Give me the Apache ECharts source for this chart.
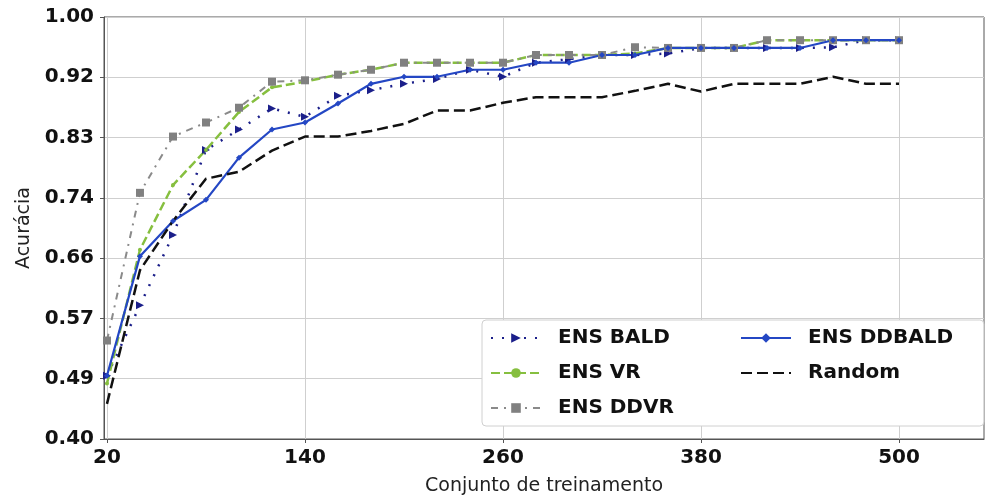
<!DOCTYPE html>
<html>
<head>
<meta charset="utf-8">
<script src="https://cdn.jsdelivr.net/npm/echarts@6/dist/echarts.min.js"></script>
<style>
  html, body { margin: 0; padding: 0; background: #fff; }
  #chart { width: 985px; height: 501px; }
</style>
</head>
<body>
<div id="chart"></div>
<script>
// tamanho do conjunto de treinamento
const trainSizes = [20, 40, 60, 80, 100, 120, 140, 160, 180, 200, 220, 240, 260,
  280, 300, 320, 340, 360, 380, 400, 420, 440, 460, 480, 500]

const ensBald = [0.49, 0.59, 0.69, 0.811, 0.84, 0.87, 0.858, 0.888, 0.896, 0.905, 0.912, 0.925, 0.915,
  0.935, 0.94, 0.946, 0.946, 0.948, 0.956, 0.956, 0.956, 0.956, 0.957, 0.967, 0.967]
const ensVr = [0.479, 0.669, 0.761, 0.811, 0.865, 0.9, 0.908, 0.918, 0.925, 0.935, 0.935, 0.935, 0.935,
  0.946, 0.946, 0.946, 0.948, 0.956, 0.956, 0.956, 0.967, 0.967, 0.967, 0.967, 0.967]
const ensDdvr = [0.54, 0.75, 0.83, 0.85, 0.871, 0.908, 0.91, 0.918, 0.925, 0.935, 0.935, 0.935, 0.935,
  0.946, 0.946, 0.946, 0.957, 0.956, 0.956, 0.956, 0.967, 0.967, 0.967, 0.967, 0.967]
const ensDdbald = [0.49, 0.66, 0.71, 0.74, 0.8, 0.84, 0.85, 0.877, 0.905, 0.915, 0.915, 0.925, 0.925,
  0.935, 0.935, 0.946, 0.946, 0.956, 0.956, 0.956, 0.956, 0.956, 0.967, 0.967, 0.967]
const randomAcc = [0.45, 0.64, 0.71, 0.77, 0.78, 0.81, 0.83, 0.83, 0.838, 0.848, 0.867, 0.867, 0.878,
  0.886, 0.886, 0.886, 0.895, 0.905, 0.894, 0.905, 0.905, 0.905, 0.915, 0.905, 0.905]

const xTicks = [20, 140, 260, 380, 500]
const yTicks = [0.4, 0.4857, 0.5714, 0.6571, 0.7429, 0.8286, 0.9143, 1.0]
const yTickLabels = ['0.40', '0.49', '0.57', '0.66', '0.74', '0.83', '0.92', '1.00']

const pairs = (ys) => trainSizes.map((x, i) => [x, ys[i]])

const chart = echarts.init(document.getElementById('chart'))

const tickFont = { color: '#111', fontSize: 20, fontWeight: 'bold', fontFamily: 'DejaVu Sans' }

const legendBase = {
  orient: 'vertical',
  top: 320,
  itemGap: 15,
  itemWidth: 50, itemHeight: 12,
  formatter: '{t|{name}}',
  textStyle: {
    rich: {
      t: { fontSize: 20, fontWeight: 'bold', color: '#111', fontFamily: 'DejaVu Sans', padding: [0, 0, 0, 12] },
    },
  },
}

chart.setOption({
  animation: false,
  backgroundColor: '#fff',
  grid: {
    left: 104, right: 1, top: 17, bottom: 60,
    show: true, borderColor: '#555', borderWidth: 1,
  },
  // duas colunas de legenda; a primeira carrega a caixa que envolve as duas
  legend: [
    {
      ...legendBase,
      left: 482,
      padding: [8, 310, 8, 8],
      backgroundColor: '#fff',
      borderColor: '#d0d0d0', borderWidth: 1, borderRadius: 4,
      data: ['ENS BALD', 'ENS VR', 'ENS DDVR'],
    },
    {
      ...legendBase,
      left: 732,
      padding: [8, 8, 8, 8],
      data: ['ENS DDBALD', { name: 'Random', itemStyle: { opacity: 0 } }],
    },
  ],
  xAxis: {
    type: 'value',
    min: 18.2, max: 551.5,
    name: 'Conjunto de treinamento',
    nameLocation: 'middle', nameGap: 38,
    nameTextStyle: { fontSize: 19, color: '#222', fontFamily: 'DejaVu Sans' },
    axisLine: { lineStyle: { color: '#555' } },
    axisTick: { show: true, inside: false, length: 4, customValues: xTicks, lineStyle: { color: '#555' } },
    axisLabel: { ...tickFont, margin: 9, customValues: xTicks, formatter: v => String(v) },
    splitLine: { show: true, lineStyle: { color: '#cfcfcf' } },
  },
  yAxis: {
    type: 'value',
    min: 0.4, max: 1.0,
    name: 'Acurácia',
    nameLocation: 'middle', nameGap: 70,
    nameTextStyle: { fontSize: 19, color: '#222', fontFamily: 'DejaVu Sans' },
    axisLine: { show: true, lineStyle: { color: '#555' } },
    axisTick: { show: true, inside: false, length: 4, customValues: yTicks, lineStyle: { color: '#555' } },
    axisLabel: {
      ...tickFont, margin: 10, customValues: yTicks,
      formatter: v => {
        const i = yTicks.findIndex(t => Math.abs(t - v) < 1e-3)
        return i >= 0 ? yTickLabels[i] : v.toFixed(2)
      },
    },
    splitLine: { show: true, lineStyle: { color: '#cfcfcf' } },
  },
  series: [
    {
      name: 'ENS BALD', type: 'line', data: pairs(ensBald),
      symbol: 'triangle', symbolSize: 8, symbolRotate: -90,
      lineStyle: { color: '#1b1f8a', width: 2.5, type: [2, 9] },
      itemStyle: { color: '#1b1f8a' },
    },
    {
      name: 'ENS VR', type: 'line', data: pairs(ensVr),
      symbol: 'circle', symbolSize: 4,
      lineStyle: { color: '#86bf3f', width: 2.5, type: [9, 4] },
      itemStyle: { color: '#86bf3f' },
    },
    {
      name: 'ENS DDVR', type: 'line', data: pairs(ensDdvr),
      symbol: 'rect', symbolSize: 8,
      lineStyle: { color: '#8a8a8a', width: 2, type: [7, 6, 2, 6] },
      itemStyle: { color: '#808080' },
    },
    {
      name: 'ENS DDBALD', type: 'line', data: pairs(ensDdbald),
      symbol: 'diamond', symbolSize: 6,
      lineStyle: { color: '#2447c4', width: 2.2 },
      itemStyle: { color: '#2447c4' },
    },
    {
      name: 'Random', type: 'line', data: pairs(randomAcc),
      symbol: 'none',
      lineStyle: { color: '#111', width: 2.5, type: [11, 5] },
      itemStyle: { color: '#111' },
    },
  ],
})
</script>
</body>
</html>
